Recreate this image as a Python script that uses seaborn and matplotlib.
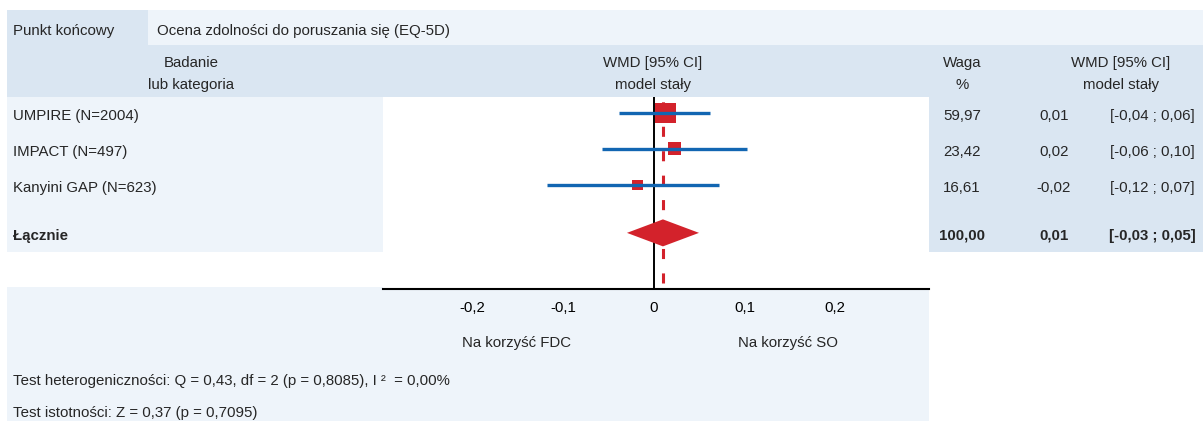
import matplotlib
matplotlib.use("Agg")
import matplotlib.pyplot as plt
import matplotlib.transforms as mtransforms
from matplotlib.patches import Rectangle, Polygon
import numpy as np
import pandas as pd
import seaborn as sns

# ---------------- data ----------------
endpoint_label = "Punkt końcowy"
endpoint_name = "Ocena zdolności do poruszania się (EQ-5D)"
studies = ["UMPIRE (N=2004)", "IMPACT (N=497)", "Kanyini GAP (N=623)"]
wmd = [0.0127, 0.0226, -0.0182]
ci_low = [-0.0386, -0.0574, -0.118]
ci_high = [0.0618, 0.1026, 0.0718]
weights = [59.97, 23.42, 16.61]
weight_text = ["59,97", "23,42", "16,61"]
wmd_text = ["0,01", "0,02", "-0,02"]
ci_text = ["[-0,04 ; 0,06]", "[-0,06 ; 0,10]", "[-0,12 ; 0,07]"]
pooled_label = "Łącznie"
pooled_wmd = 0.0099
pooled_low = -0.0298
pooled_high = 0.0497
pooled_weight_text = "100,00"
pooled_wmd_text = "0,01"
pooled_ci_text = "[-0,03 ; 0,05]"
xticks = [-0.2, -0.1, 0.0, 0.1, 0.2]
xtick_labels = ["-0,2", "-0,1", "0", "0,1", "0,2"]
favours = ["Na korzyść FDC", "Na korzyść SO"]
header_left = ["Badanie", "lub kategoria"]
header_mid = ["WMD [95% CI]", "model stały"]
header_weight = ["Waga", "%"]
header_right = ["WMD [95% CI]", "model stały"]
het_text = "Test heterogeniczności: Q = 0,43, df = 2 (p = 0,8085), I \u00b2  = 0,00%"
sig_text = "Test istotności: Z = 0,37 (p = 0,7095)"

# ---------------- style ----------------
sns.set_theme(style="white")
plt.rcParams["font.family"] = ["Liberation Sans", "DejaVu Sans"]
FS = 10.8
DARK = "#dae6f2"
LIGHT = "#eef4fa"
RED = "#d3222b"
BLUE = "#1266b2"

W, H = 1203, 421
fig = plt.figure(figsize=(W / 100, H / 100), dpi=100)
fig.patch.set_facecolor("white")

# background layer in pixel coordinates
bg = fig.add_axes([0, 0, 1, 1])
bg.set_xlim(0, W)
bg.set_ylim(H, 0)
bg.axis("off")
for (x, y, w, h, c) in [
    (7, 10, 141, 35, DARK),
    (148, 10, W - 148, 35, LIGHT),
    (7, 45, W - 7, 52, DARK),
    (7, 97, 376, 155, LIGHT),
    (929, 97, W - 929, 155, DARK),
    (7, 287, 922, H - 287, LIGHT),
]:
    bg.add_patch(Rectangle((x, y), w, h, facecolor=c, edgecolor="none"))

# forest plot axes
ax = fig.add_axes([383 / W, (H - 289) / H, (929 - 383) / W, (289 - 97) / H])
ax.set_facecolor("white")

rows = np.arange(len(studies), dtype=float)
pooled_row = 3.33

df = pd.DataFrame({"study": studies, "wmd": wmd, "row": rows, "weight": weights})

ax.axvline(0, color="black", lw=1.4, zorder=1)
ax.plot([pooled_wmd, pooled_wmd], [4.72, -0.444], color=RED, lw=2.2,
        linestyle=(0, (3.3, 4.7)), zorder=2, solid_capstyle="butt", dash_capstyle="butt")

k = 3.75
sns.scatterplot(data=df, x="wmd", y="row", size="weight",
                sizes=(k * min(weights), k * max(weights)),
                size_norm=(min(weights), max(weights)),
                marker="s", color=RED, linewidth=0, legend=False, ax=ax, zorder=3)

ax.add_patch(Polygon([(pooled_low, pooled_row), (pooled_wmd, pooled_row - 0.375),
                      (pooled_high, pooled_row), (pooled_wmd, pooled_row + 0.375)],
                     closed=True, facecolor=RED, edgecolor="none", zorder=3))

ax.hlines(df["row"], ci_low, ci_high, color=BLUE, lw=2.4, zorder=4)

ax.set_xlim(-0.299, 0.3035)
ax.set_ylim(4.889, -0.444)
ax.set_xlabel("")
ax.set_ylabel("")
ax.set_yticks([])
ax.set_xticks(xticks)
ax.set_xticklabels(xtick_labels, fontsize=FS, color="black")
ax.tick_params(axis="x", direction="inout", length=6, width=1.2, pad=6, colors="black")
for s in ["top", "left", "right"]:
    ax.spines[s].set_visible(False)
ax.spines["bottom"].set_color("black")
ax.spines["bottom"].set_linewidth(1.5)

# ---------------- texts ----------------
bg.text(13, 31, endpoint_label, fontsize=FS, va="center", ha="left")
bg.text(157, 31, endpoint_name, fontsize=FS, va="center", ha="left")

for cx, lines in [(191, header_left), (653, header_mid), (962, header_weight), (1121, header_right)]:
    bg.text(cx, 63, lines[0], fontsize=FS, va="center", ha="center")
    bg.text(cx, 85, lines[1], fontsize=FS, va="center", ha="center")

tr = mtransforms.blended_transform_factory(bg.transData, ax.transData)
for i, r in enumerate(rows):
    yy = r + 0.08
    fig.text(13, yy, studies[i], fontsize=FS, va="center", ha="left", transform=tr)
    fig.text(962, yy, weight_text[i], fontsize=FS, va="center", ha="center", transform=tr)
    fig.text(1054, yy, wmd_text[i], fontsize=FS, va="center", ha="center", transform=tr)
    fig.text(1152, yy, ci_text[i], fontsize=FS, va="center", ha="center", transform=tr)

yp = pooled_row + 0.08
fig.text(13, yp, pooled_label, fontsize=FS, va="center", ha="left", fontweight="bold", transform=tr)
fig.text(962, yp, pooled_weight_text, fontsize=FS, va="center", ha="center", fontweight="bold", transform=tr)
fig.text(1054, yp, pooled_wmd_text, fontsize=FS, va="center", ha="center", fontweight="bold", transform=tr)
fig.text(1152, yp, pooled_ci_text, fontsize=FS, va="center", ha="center", fontweight="bold", transform=tr)

bg.text(516, 343, favours[0], fontsize=FS, va="center", ha="center")
bg.text(788, 343, favours[1], fontsize=FS, va="center", ha="center")
bg.text(13, 381, het_text, fontsize=FS, va="center", ha="left")
bg.text(13, 413, sig_text, fontsize=FS, va="center", ha="left")

fig.savefig("out.png", dpi=100, facecolor="white")
